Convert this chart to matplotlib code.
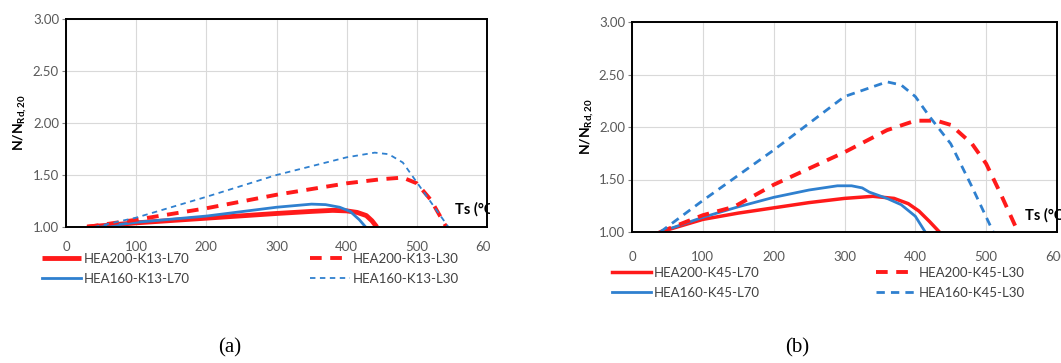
import matplotlib
matplotlib.use("Agg")
import matplotlib.pyplot as plt
from matplotlib.patches import Rectangle

plt.rcParams['font.family'] = ['Lato', 'DejaVu Sans']
plt.rcParams['mathtext.fontset'] = 'custom'
plt.rcParams['mathtext.rm'] = 'Lato'
plt.rcParams['mathtext.bf'] = 'Lato:bold'

RED = '#FF1A1A'
BLUE = '#2F80CF'

# ---- panel (a): K13 ----
a_200_70_x = [30, 100, 200, 300, 350, 380, 400, 415, 428, 436, 443]
a_200_70_y = [1.00, 1.04, 1.085, 1.13, 1.15, 1.16, 1.155, 1.14, 1.11, 1.06, 1.00]
a_160_70_x = [50, 100, 200, 300, 350, 370, 390, 405, 418, 427]
a_160_70_y = [1.00, 1.045, 1.105, 1.19, 1.22, 1.215, 1.19, 1.15, 1.07, 1.00]
a_200_30_x = [30, 100, 200, 300, 400, 450, 480, 500, 520, 542]
a_200_30_y = [1.00, 1.07, 1.18, 1.31, 1.42, 1.46, 1.475, 1.42, 1.26, 1.00]
a_160_30_x = [40, 100, 200, 300, 400, 440, 460, 480, 500, 545]
a_160_30_y = [1.00, 1.09, 1.29, 1.50, 1.67, 1.715, 1.70, 1.62, 1.43, 1.00]

# ---- panel (b): K45 ----
b_200_70_x = [40, 100, 150, 200, 250, 300, 340, 370, 390, 405, 420, 434]
b_200_70_y = [1.00, 1.12, 1.18, 1.23, 1.28, 1.32, 1.34, 1.32, 1.27, 1.20, 1.10, 1.00]
b_160_70_x = [40, 70, 100, 150, 200, 250, 290, 310, 325, 335, 360, 380, 400, 414]
b_160_70_y = [1.00, 1.07, 1.14, 1.24, 1.33, 1.40, 1.44, 1.44, 1.42, 1.38, 1.32, 1.26, 1.15, 1.00]
b_200_30_x = [40, 100, 144, 200, 300, 360, 400, 430, 450, 480, 500, 520, 545]
b_200_30_y = [1.00, 1.16, 1.24, 1.45, 1.76, 1.97, 2.06, 2.06, 2.02, 1.84, 1.65, 1.37, 1.00]
b_160_30_x = [40, 100, 200, 300, 360, 380, 400, 420, 450, 480, 510]
b_160_30_y = [1.00, 1.30, 1.78, 2.29, 2.43, 2.40, 2.29, 2.10, 1.84, 1.43, 1.00]

x_ticks = [0, 100, 200, 300, 400, 500, 600]
y_ticks = [1.00, 1.50, 2.00, 2.50, 3.00]

fig = plt.figure(figsize=(10.61, 3.63), dpi=100)
W, H = 1061, 363


def px_axes(l, t, r, b):
    return fig.add_axes([l / W, 1 - b / H, (r - l) / W, (b - t) / H])


def style(ax, xpad):
    ax.set_xlim(0, 600)
    ax.set_ylim(1, 3)
    ax.set_xticks(x_ticks)
    ax.set_yticks(y_ticks)
    ax.set_yticklabels(['%.2f' % v for v in y_ticks])
    ax.grid(color='#D9D9D9', linewidth=0.8)
    ax.set_axisbelow(True)
    for s in ax.spines.values():
        s.set_color('black')
        s.set_linewidth(1.4)
    ax.tick_params(axis='y', length=3, width=0.8, color='#808080',
                   labelsize=9.5, labelcolor='#595959', pad=2)
    ax.tick_params(axis='x', length=0, labelsize=9.5, labelcolor='#595959', pad=xpad)


# panel (a)
ax1 = px_axes(66, 19, 487, 227)
style(ax1, 10)
ax1.plot(a_200_70_x, a_200_70_y, color=RED, lw=3.5, label='HEA200-K13-L70', solid_capstyle='butt')
ax1.plot(a_160_70_x, a_160_70_y, color=BLUE, lw=2, label='HEA160-K13-L70')
ax1.plot(a_200_30_x, a_200_30_y, color=RED, lw=2.8, ls=(0, (3, 2.2)), label='HEA200-K13-L30')
ax1.plot(a_160_30_x, a_160_30_y, color=BLUE, lw=1.3, ls=(0, (3, 2.5)), label='HEA160-K13-L30')
ax1.set_ylabel(r'$\mathbf{N/N_{Rd,20}}$', fontsize=10, labelpad=3)
ax1.text(554, 1.17, 'Ts (°C)', fontweight='bold', fontsize=10.5, va='center', ha='left')
ax1.legend(loc='upper left', bbox_to_anchor=(-0.07, -0.1), ncol=2, frameon=False,
           fontsize=9.5, handlelength=3.0, handletextpad=0.2, columnspacing=9.1,
           labelspacing=0.6, borderaxespad=0, labelcolor='#404040')

# panel (b)
ax2 = px_axes(632, 22, 1057, 232)
style(ax2, 14)
ax2.plot(b_200_70_x, b_200_70_y, color=RED, lw=2.5, label='HEA200-K45-L70')
ax2.plot(b_160_70_x, b_160_70_y, color=BLUE, lw=2, label='HEA160-K45-L70')
ax2.plot(b_200_30_x, b_200_30_y, color=RED, lw=2.8, ls=(0, (3, 2.2)), label='HEA200-K45-L30')
ax2.plot(b_160_30_x, b_160_30_y, color=BLUE, lw=2, ls=(0, (3, 2.2)), label='HEA160-K45-L30')
ax2.set_ylabel(r'$\mathbf{N/N_{Rd,20}}$', fontsize=10, labelpad=2)
ax2.text(555, 1.16, 'Ts (°C)', fontweight='bold', fontsize=10.5, va='center', ha='left',
         clip_on=False)
ax2.legend(loc='upper left', bbox_to_anchor=(-0.06, -0.14), ncol=2, frameon=False,
           fontsize=9.5, handlelength=3.0, handletextpad=0.2, columnspacing=8.8,
           labelspacing=0.6, borderaxespad=0, labelcolor='#404040')

# crop edge of panel (a) as in the source image
fig.add_artist(Rectangle((490 / W, 0.25), 40 / W, 0.75, transform=fig.transFigure,
                         facecolor='white', edgecolor='none', zorder=10))

fig.text(230 / W, 1 - 348 / H, '(a)', family='Liberation Serif', fontsize=15,
         ha='center', va='center')
fig.text(797 / W, 1 - 348 / H, '(b)', family='Liberation Serif', fontsize=15,
         ha='center', va='center')

fig.savefig('out.png', dpi=100)
